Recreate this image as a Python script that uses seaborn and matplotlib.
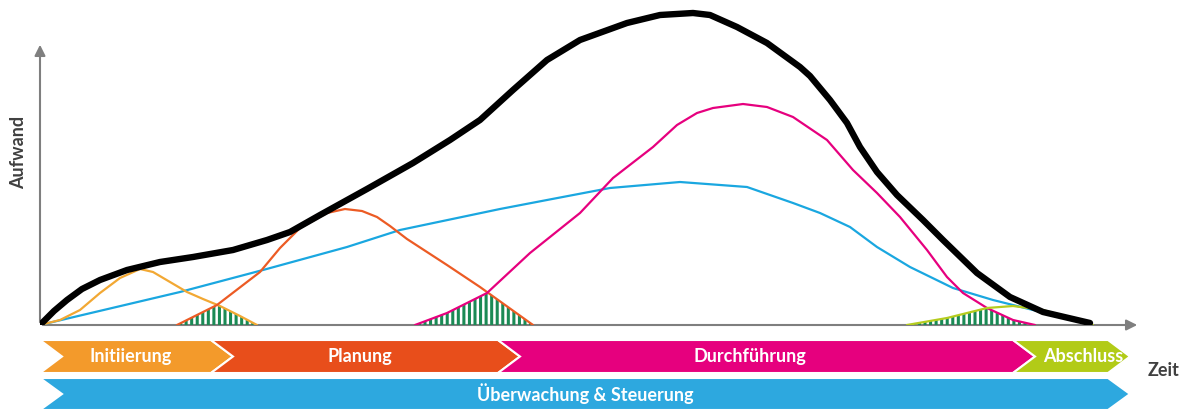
import numpy as np
import matplotlib
matplotlib.use("Agg")
import matplotlib.pyplot as plt
import seaborn as sns
from matplotlib.patches import Polygon

sns.set_style("white")
plt.rcParams['font.family'] = ['Lato', 'DejaVu Sans']

# effort curves (x = time, y = effort)
total_t = [0, 14, 27, 42, 60, 87, 120, 153, 193, 227, 250, 280, 327, 373, 410, 440, 473, 507, 540,
           587, 620, 653, 670, 697, 727, 760, 770, 790, 807, 820, 837, 857, 883, 903, 937, 970,
           1003, 1050]
total_e = [0, 14, 25, 36, 45, 55, 63, 68, 75, 85, 93, 110, 136, 162, 185, 205, 235, 265, 285,
           302, 310, 312, 310, 298, 282, 258, 249, 225, 202, 178, 153, 130, 105, 85, 52, 28,
           13, 2]

init_t = [0, 20, 40, 60, 80, 100, 113, 130, 147, 163, 180, 200, 217]
init_e = [0, 5, 15, 32, 47, 56, 53, 43, 33, 26, 19, 9, 0]

plan_t = [137, 177, 220, 240, 260, 287, 305, 322, 337, 350, 367, 407, 440, 493]
plan_e = [0, 20, 53, 77, 97, 112, 116, 114, 108, 99, 86, 60, 38, 0]

durch_t = [375, 407, 447, 490, 540, 573, 613, 637, 657, 673, 703, 727, 753, 787, 813, 837, 860,
           887, 907, 923, 947, 973, 995]
durch_e = [0, 12, 32, 72, 112, 147, 178, 200, 212, 217, 221, 218, 208, 185, 155, 132, 108,
           75, 48, 32, 17, 5, 0]

ueber_t = [0, 140, 223, 307, 360, 460, 507, 570, 640, 707, 753, 780, 810, 837, 870, 913, 953, 993, 1050]
ueber_e = [0, 33, 55, 78, 95, 116, 125, 137, 143, 138, 122, 112, 98, 78, 58, 37, 25, 15, 2]

absch_t = [867, 907, 947, 973, 1003, 1037, 1053]
absch_e = [0, 7, 17, 19, 15, 5, 0]

# phases
phase_names = ["Initiierung", "Planung", "Durchführung", "Abschluss"]
phase_start = [40, 211, 498, 1013]
phase_end = [233, 520, 1035, 1130]
phase_colors = ["#F39A2B", "#E84E1B", "#E6007E", "#B2CB17"]
label_x = [131, 360, 750, 1083]
control_name = "Überwachung & Steuerung"
control_color = "#2DA8DF"

curve_colors = {"init": "#F2A833", "plan": "#EC5B24", "durch": "#E6007E",
                "ueber": "#1AA7E0", "absch": "#B5CC1E"}
hatch_green = "#1A8A55"

W, H = 1188, 412
fig = plt.figure(figsize=(W / 100, H / 100), dpi=100)

# background axes in pixel units: arrows, bars, labels
bg = fig.add_axes([0, 0, 1, 1])
bg.set_xlim(0, W)
bg.set_ylim(H, 0)
bg.axis("off")

ox, oy = 40, 325
bg.annotate("", xy=(1140, oy), xytext=(ox, oy),
            arrowprops=dict(arrowstyle="-|>", color="#7F7F7F", lw=1.5, mutation_scale=16))
bg.annotate("", xy=(ox, 42), xytext=(ox, oy),
            arrowprops=dict(arrowstyle="-|>", color="#7F7F7F", lw=1.5, mutation_scale=16))
bg.text(19, 152, "Aufwand", rotation=90, ha="center", va="center",
        fontsize=13, fontweight="bold", color="#404040")
bg.text(1164, 370, "Zeit", ha="center", va="center",
        fontsize=13, fontweight="bold", color="#404040")


def chevron(x0, x1, top, bot, d=22):
    mid = (top + bot) / 2
    return [(x0, top), (x1 - d, top), (x1, mid), (x1 - d, bot), (x0, bot), (x0 + d, mid)]


row1 = (340, 373)
row2 = (378, 410)
for name, x0, x1, c, lx in zip(phase_names, phase_start, phase_end, phase_colors, label_x):
    bg.add_patch(Polygon(chevron(x0, x1, *row1), closed=True, facecolor=c,
                         edgecolor="white", lw=1.5))
    bg.text(lx, (row1[0] + row1[1]) / 2, name, ha="center", va="center",
            fontsize=13, fontweight="bold", color="white")
bg.add_patch(Polygon(chevron(phase_start[0], phase_end[-1], *row2), closed=True,
                     facecolor=control_color, edgecolor="white", lw=1.5))
bg.text((phase_start[0] + phase_end[-1]) / 2, (row2[0] + row2[1]) / 2, control_name,
        ha="center", va="center", fontsize=13, fontweight="bold", color="white")

# curve axes, origin at the arrow crossing
ax = fig.add_axes([ox / W, (H - oy) / H, 1100 / W, oy / H])
ax.set_xlim(0, 1100)
ax.set_ylim(0, oy)
ax.patch.set_alpha(0)
ax.axis("off")

plt.rcParams['hatch.linewidth'] = 2.2
plt.rcParams['hatch.color'] = hatch_green


def overlap(t1, e1, t2, e2):
    # stripes under both curves: fill one curve, clip to the other
    clip = Polygon(np.column_stack([t2, e2]), closed=True, transform=ax.transData)
    p = ax.fill(t1, e1, facecolor="none", edgecolor=hatch_green, hatch="|||", lw=0, zorder=1)[0]
    p.set_clip_path(clip)


overlap(init_t, init_e, plan_t, plan_e)
overlap(plan_t, plan_e, durch_t, durch_e)
overlap(durch_t, durch_e, absch_t, absch_e)

for t, e, key in [(ueber_t, ueber_e, "ueber"), (init_t, init_e, "init"), (plan_t, plan_e, "plan"),
                  (durch_t, durch_e, "durch"), (absch_t, absch_e, "absch")]:
    sns.lineplot(x=t, y=e, ax=ax, color=curve_colors[key], lw=1.6, estimator=None,
                 sort=False, zorder=3, solid_joinstyle="round")
sns.lineplot(x=total_t, y=total_e, ax=ax, color="black", lw=4.6, estimator=None,
             sort=False, zorder=4, solid_capstyle="round", solid_joinstyle="round")
ax.axis("off")

fig.savefig("out.png", dpi=100)
